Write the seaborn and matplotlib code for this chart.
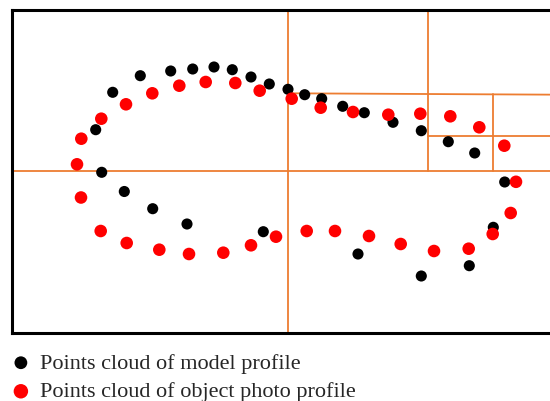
import matplotlib
matplotlib.use("Agg")
import matplotlib.pyplot as plt
import seaborn as sns
import pandas as pd

# Model profile point cloud (black)
model_x = [83.7, 100.7, 128.3, 158.7, 180.7, 202.0, 220.3, 239.0, 257.3, 276.0,
           292.7, 309.7, 330.7, 352.3, 381.0, 409.3, 436.3, 462.7, 492.7, 481.3,
           457.3, 409.3, 346.0, 251.3, 175.0, 140.7, 112.3, 89.7]
model_y = [203.3, 240.7, 257.3, 262.0, 264.0, 266.0, 263.3, 256.0, 249.0, 243.7,
           238.3, 234.3, 226.7, 220.3, 210.7, 202.3, 191.3, 180.0, 151.0, 105.7,
           67.3, 57.0, 79.0, 101.3, 109.0, 124.3, 141.5, 160.7]

# Object photo profile point cloud (red)
photo_x = [65.0, 69.3, 89.3, 114.0, 140.3, 167.3, 193.7, 223.3, 247.7, 279.7,
           308.7, 341.0, 376.3, 408.3, 438.3, 467.3, 492.3, 504.0,
           69.0, 88.7, 114.7, 147.3, 177.0, 211.3, 239.0, 264.0, 294.7, 323.0,
           357.0, 388.7, 422.0, 456.7, 480.7, 498.7]
photo_y = [168.7, 194.3, 214.3, 228.7, 239.7, 247.3, 251.0, 250.0, 242.3, 234.3,
           225.3, 221.0, 218.3, 219.3, 216.7, 205.7, 187.3, 151.2,
           135.5, 102.0, 90.0, 83.3, 79.0, 80.3, 87.7, 96.3, 102.0, 102.0,
           97.0, 89.0, 82.0, 84.3, 99.0, 120.0]

# Quadtree subdivision lines: (x0, x1, y0, y1)
split_lines = [
    (0.0, 548.0, 161.7, 161.7),
    (276.0, 276.0, 0.0, 323.0),
    (276.0, 548.0, 239.7, 238.3),
    (415.7, 415.7, 161.7, 323.0),
    (415.7, 548.0, 197.3, 197.3),
    (481.0, 481.0, 161.7, 239.3),
]

labels = ["Points cloud of model profile", "Points cloud of object photo profile"]

sns.set_theme(style="white")
plt.rcParams["font.family"] = ["Liberation Serif", "DejaVu Serif"]

W, H = 550, 401
fig = plt.figure(figsize=(W / 100, H / 100), dpi=100)
ax = fig.add_axes([12 / W, (H - 333) / H, (560 - 12) / W, (333 - 10) / H])
ax.set_xlim(0, 560 - 12)
ax.set_ylim(0, 323)

orange = "#ED7D31"
for x0, x1, y0, y1 in split_lines:
    ax.plot([x0, x1], [y0, y1], color=orange, lw=1.3, zorder=1)

model = pd.DataFrame({"x": model_x, "y": model_y})
photo = pd.DataFrame({"x": photo_x, "y": photo_y})
sns.scatterplot(data=model, x="x", y="y", ax=ax, color="black", s=64,
                edgecolor="none", label=labels[0], zorder=3)
sns.scatterplot(data=photo, x="x", y="y", ax=ax, color="#FF0000", s=82,
                edgecolor="none", label=labels[1], zorder=4)

ax.set_xticks([])
ax.set_yticks([])
ax.set_xlabel("")
ax.set_ylabel("")
for side, sp in ax.spines.items():
    sp.set_visible(True)
    sp.set_color("black")
    sp.set_linewidth(2.2)

ax.legend(loc="upper left", bbox_to_anchor=(12 / W, (H - 353) / H),
          bbox_transform=fig.transFigure, frameon=False, fontsize=16,
          handlelength=0.8, handletextpad=0.45, labelspacing=0.36,
          borderaxespad=0.0, borderpad=0.0, markerscale=1.15)

fig.savefig("out.png", dpi=100)
